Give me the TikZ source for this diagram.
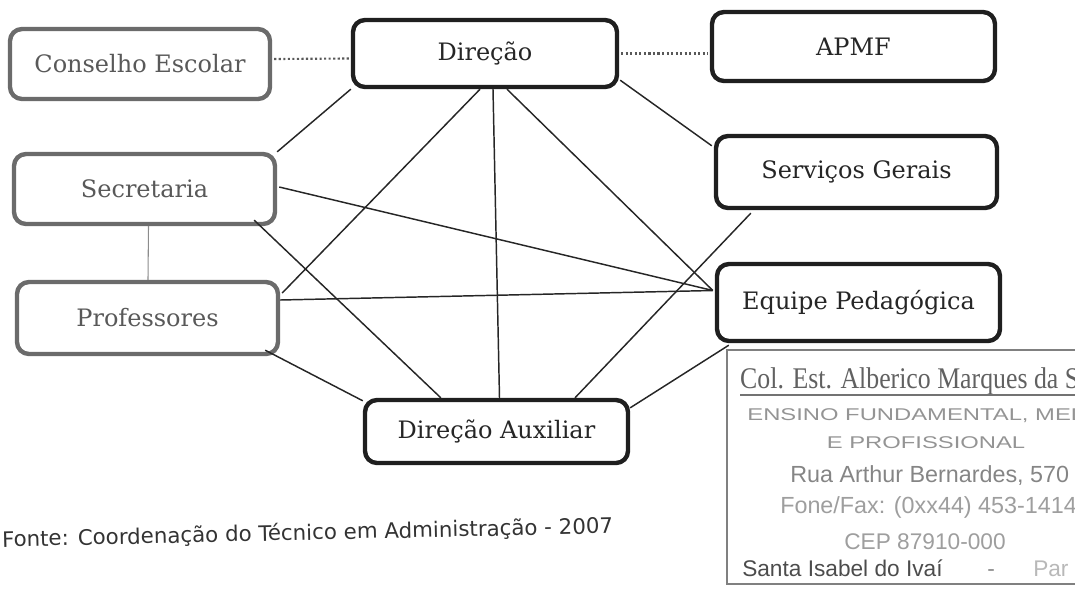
\documentclass[tikz,border=0pt]{standalone}
\usepackage{fontspec}
\setmainfont{DejaVu Serif}
\newfontfamily\fontesans{DejaVu Sans}
\newfontfamily\stampsans{Liberation Sans}
\newfontfamily\stampserif{Liberation Serif}
\usetikzlibrary{calc}
\begin{document}
\begin{tikzpicture}[x=0.75pt,y=-0.75pt,
  box/.style={draw=black!88, line width=3.3pt, rounded corners=9pt, fill=white, inner sep=0pt,
    font=\fontsize{18}{20}\selectfont, text=black!85},
  graybox/.style={box, draw=black!58, text=black!65},
  link/.style={line width=1.1pt, draw=black!85},
  thinlink/.style={line width=0.8pt, draw=black!45},
  dotlink/.style={line width=1.6pt, draw=black!65, dash pattern=on 1.6pt off 1.8pt},
  stampl/.style={inner sep=0pt, anchor=base west, text=black!42},
  stampc/.style={inner sep=0pt, anchor=base, text=black!42}]
\useasboundingbox (0,0) rectangle (1075,594);

% boxes
\node[graybox, minimum width=195pt, minimum height=52.5pt] (con) at (140,64) {Conselho Escolar};
\node[box, minimum width=198pt, minimum height=50.25pt] (dir) at (485,53.5) {Direção};
\node[box, minimum width=212.25pt, minimum height=51.75pt] (apmf) at (853.5,46.5) {APMF};
\node[graybox, minimum width=195.75pt, minimum height=52.5pt] (sec) at (144.5,189) {Secretaria};
\node[graybox, minimum width=195.75pt, minimum height=54pt] (pro) at (147.5,318) {Professores};
\node[box, minimum width=210.75pt, minimum height=54pt] (ser) at (856.5,172) {Serviços Gerais};
\node[box, minimum width=212.25pt, minimum height=57.75pt] (eq) at (858.5,302.5) {Equipe Pedagógica};
\node[box, minimum width=197.25pt, minimum height=47.25pt] (aux) at (496.5,431.5) {Direção Auxiliar};

% connectors
\coordinate (eqin) at ($(eq.west)+(-2,-12)$);
\draw[link] (dir.south west) -- (sec.north east);
\draw[link] ($(dir.south)+(-5,0)$) -- ($(pro.east)+(2,-25)$);
\draw[link] ($(dir.south)+(8,0)$) -- ($(aux.north)+(3,0)$);
\draw[link] ($(dir.south)+(22,0)$) -- (eqin);
\draw[link] ($(dir.south east)+(1,-9)$) -- ($(ser.north west)+(-2,12)$);
\draw[link] ($(sec.east)+(2,-2)$) -- (eqin);
\draw[link] ($(sec.south east)+(-23,-6)$) -- ($(aux.north west)+(78,0)$);
\draw[link] ($(pro.east)+(0,-18)$) -- (eqin);
\draw[link] ($(pro.south east)+(-15,-6)$) -- ($(aux.north west)+(0,3)$);
\draw[link] ($(ser.south west)+(37,3)$) -- ($(aux.north)+(78.5,0)$);
\draw[link] ($(eq.south west)+(14,2)$) -- ($(aux.north east)+(0,10)$);
\draw[thinlink] ($(sec.south)+(4,0)$) -- ($(pro.north)+(0.5,0)$);
\draw[dotlink] ($(con.east)+(2,-5)$) -- ($(dir.west)+(-2,5)$);
\draw[dotlink] ($(dir.east)+(2,0)$) -- ($(apmf.west)+(-2,7)$);

% source line
\node[inner sep=0pt, anchor=base west, rotate=1.3, text=black!80,
  font=\fontesans\fontsize{16}{18}\selectfont] (fonte) at (2,547)
  {Fonte: Coordenação do Técnico em Administração - 2007};

% stamp
\begin{scope}
\clip (0,0) rectangle (1075,594);
\coordinate (stTR) at (1090,350);
\coordinate (stTL) at (727,350);
\coordinate (stBL) at (727,584);
\coordinate (stBR) at (1090,584);
\draw[black!50, line width=1.6pt] (stTR) -- (stTL) -- (stBL) -- (stBR);
\node[stampl, text=black!62, xscale=0.86, font=\stampserif\fontsize{22.5}{24}\selectfont] (st1) at (740,388)
  {Col. Est. Alberico Marques da Silva};
\coordinate (ulA) at (740,395);
\coordinate (ulB) at (1090,395);
\draw[black!55, line width=1pt] (ulA) -- (ulB);
\node[stampl, xscale=1.4, font=\stampsans\fontsize{12.75}{14}\selectfont] (st2) at (747,420)
  {ENSINO FUNDAMENTAL, MEDIO};
\node[stampc, xscale=1.4, font=\stampsans\fontsize{12.75}{14}\selectfont] (st3) at (926,448)
  {E PROFISSIONAL};
\node[stampl, text=black!48, font=\stampsans\fontsize{17.5}{19}\selectfont] (st4) at (790,482)
  {Rua Arthur Bernardes, 570};
\node[stampl, text=black!38, font=\stampsans\fontsize{17.5}{19}\selectfont] (st5) at (780,513)
  {Fone/Fax: (0xx44) 453-1414};
\node[stampc, text=black!38, font=\stampsans\fontsize{17}{19}\selectfont] (st6) at (925,549)
  {CEP 87910-000};
\node[stampl, text=black!70, font=\stampsans\fontsize{17}{19}\selectfont] (st7) at (742,576)
  {Santa Isabel do Ivaí};
\node[stampl, text=black!45, font=\stampsans\fontsize{17}{19}\selectfont] (st8) at (987,576) {-};
\node[stampl, text=black!28, font=\stampsans\fontsize{17}{19}\selectfont] (st9) at (1033,576) {Par};
\end{scope}
\end{tikzpicture}
\end{document}
